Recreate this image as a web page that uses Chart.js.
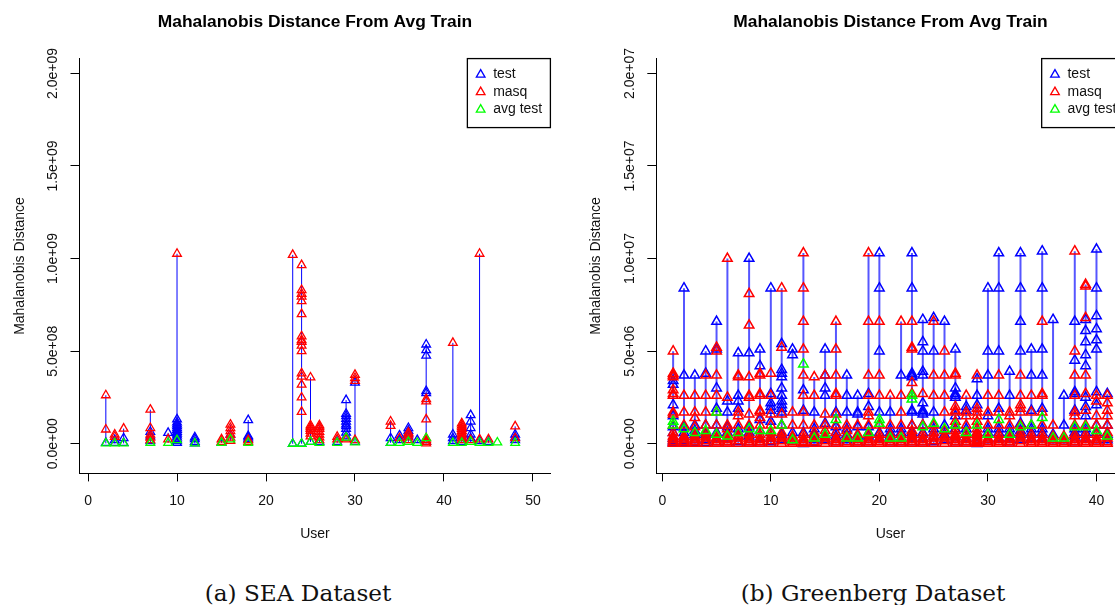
<!DOCTYPE html>
<html><head><meta charset="utf-8">
<script src="https://cdn.jsdelivr.net/npm/chart.js@4.4.0/dist/chart.umd.min.js"></script>
<style>
html,body{margin:0;padding:0;background:#fff;overflow:hidden;width:1115px;height:605px;}
#wrap{position:relative;width:1115px;height:605px;overflow:hidden;background:#fff;}
canvas{position:absolute;top:0;}
.cap{position:absolute;font-family:"DejaVu Serif",serif;font-size:23.2px;line-height:24px;color:#111;white-space:nowrap;transform:translateX(-50%);top:581px;}
</style></head><body>
<div id="wrap">
<canvas id="c1" width="575" height="560" style="left:0px"></canvas>
<canvas id="c2" width="575" height="560" style="left:576px"></canvas>
<div class="cap" style="left:298px">(a) SEA Dataset</div>
<div class="cap" style="left:873px">(b) Greenberg Dataset</div>
</div>
<script>
// ---------------- DATA ----------------
// SEA dataset, values in units of 1e8
const seaUnit = 1e8;
const seaUsers = [2,3,4,7,9,10,12,15,16,18,23,24,25,26,28,29,30,34,35,36,37,38,41,42,43,44,45,46,48];
const seaTest = [
  [0.05],[0.2,0.05],[0.3,0.05],[0.65,0.4,0.15],[0.59],
  [1.32,1.15,1.05,0.95,0.85,0.75,0.65,0.55,0.45,0.35,0.25,0.15,0.05],
  [0.35,0.25,0.1,0.02],[0.05],[0.5],[1.28,0.42,0.35,0.25],
  [0.0],[0.0],[0.1],[0.1],[0.1],
  [2.36,1.62,1.5,1.35,1.2,1.05,0.95,0.8,0.6,0.4],
  [3.3,0.1],[0.3,0.05],[0.45,0.2],[0.85,0.7,0.55,0.4],[0.2],
  [5.36,5.06,4.76,2.85,2.73,0.1],
  [0.5,0.3,0.15],[0.1],[1.55,1.2,0.85,0.5,0.3],[0.15],[0.1],[],[0.5,0.35,0.2]
];
const seaMasq = [
  [2.62,0.77],[0.5,0.38],[0.82],[1.84,0.85,0.5,0.33,0.2],[0.24],
  [10.26],
  [],[0.24,0.1],[1.03,0.85,0.68,0.5,0.33,0.16],[0.2,0.1],
  [10.2],
  [9.65,8.3,8.1,7.95,7.7,7.0,5.8,5.6,5.5,5.3,5.0,3.8,3.63,3.19,2.5,1.72],
  [3.58,1.0,0.9,0.8,0.7,0.55,0.4],[1.0,0.9,0.8,0.65,0.5,0.35,0.2],[0.38,0.24],
  [0.3,0.24],
  [3.72,3.55,3.4,0.2],[1.2,0.97],[0.3],[0.6,0.5,0.35,0.2],[],
  [2.41,2.29,1.32,0.3,0.2,0.1,0.02],
  [5.45],[1.1,1.0,0.9,0.8,0.7,0.6,0.5,0.4,0.3,0.2],[0.2],[10.26,0.24],[0.24],[],[0.94,0.3]
];
const seaAvg = [
  [0.02],[0.02],[0.02],[0.05],[0.05],[0.2],[0.02],[0.05],[0.24],[0.05],
  [0.0],[0.0],[0.1],[0.05],[0.05],[0.33],[0.07],[0.05],[0.05],[0.1],[0.05],
  [0.3],[0.05],[0.05],[0.1],[0.05],[0.05],[0.07],[0.05]
];

// Greenberg dataset, values in units of 1e6
const grUnit = 1e6;
const grUsers = [1,2,3,4,5,6,7,8,9,10,11,12,13,14,15,16,17,18,19,20,21,22,23,24,25,26,27,28,29,30,31,32,33,34,35,36,37,38,39,40,41];
const grTest = [
  [3.4,3.2,2.1,1.5,0.9,0.6,0.3,0.15,0.05],
  [8.4,3.7,0.9,0.6,0.4,0.15,0.05],
  [3.7,1.0,0.7,0.5,0.2,0.05],
  [5.0,3.8,1.0,0.6,0.5,0.2,0.05],
  [6.6,5.1,3.0,1.9,1.0,0.6,0.3,0.1],
  [2.3,1.7,0.9,0.6,0.3,0.1],
  [4.9,2.6,2.3,1.9,0.8,0.6,0.4,0.1],
  [10.0,4.9,0.9,0.6,0.4,0.1],
  [5.1,4.2,1.3,0.7,0.3,0.1],
  [8.4,2.7,2.2,2.0,1.8,1.2,0.6,0.3,0.1],
  [5.4,4.0,3.8,3.6,3.0,2.6,2.3,2.1,1.9,1.7,1.0,0.5,0.2],
  [5.1,4.8,0.6,0.2],
  [2.9,1.8,0.6,0.0],
  [1.7,0.8,0.5,0.2,0.05],
  [5.1,3.7,3.0,2.6,1.1,0.5,0.2],
  [1.7,0.9,0.6,0.4,0.1],
  [3.7,2.6,1.7,0.8,0.5,0.2],
  [2.6,1.7,1.6,0.9,0.4,0.1],
  [2.7,2.0,0.9,0.6,0.4,0.1],
  [10.3,8.4,5.0,1.7,0.6,0.3],
  [1.7,0.8,0.6,0.4,0.1],
  [3.7,0.8,0.6,0.3,0.1],
  [10.3,8.4,3.8,3.7,3.6,1.8,1.7,1.0,0.6,0.3,0.1],
  [6.7,5.5,5.0,3.9,3.7,2.2,1.8,1.7,1.6,1.0,0.6,0.3,0.1],
  [6.8,5.0,1.7,0.8,0.6,0.4,0.1],
  [6.6,1.0,0.7,0.5,0.2],
  [5.1,3.0,2.7,2.6,2.5,1.5,0.8,0.4,0.1],
  [2.0,1.8,0.8,0.6,0.3,0.1],
  [3.5,2.6,2.1,0.6,0.0],
  [8.4,5.0,3.7,1.5,0.8,0.6,0.2],
  [10.3,8.4,5.0,1.9,0.8,0.6,0.3],
  [3.9,2.6,0.8,0.6,0.3,0.1],
  [10.3,8.4,6.6,5.0,1.1,0.7,0.5,0.2],
  [5.1,3.7,1.8,0.8,0.6,0.3],
  [10.4,8.4,5.1,3.7,1.9,0.8,0.6,0.3],
  [6.7,0.5,0.2],
  [2.6,1.0,0.2],
  [6.6,4.5,2.8,2.7,1.8,0.8,0.6,0.4,0.1],
  [6.7,6.1,5.5,4.8,4.2,2.5,2.0,1.5,0.8,0.6,0.3],
  [10.5,8.4,6.9,6.2,5.6,5.1,2.8,2.1,1.0,0.6,0.2],
  [2.7,1.0,0.5,0.2]
];
const grMasq = [
  [5.0,3.8,3.7,3.6,2.9,2.7,2.6,1.7,1.6,1.0,0.6,0.4,0.3,0.2,0.1,0.02],
  [2.6,1.7,1.0,0.4,0.3,0.2,0.1,0.02],
  [2.6,1.7,1.4,0.9,0.4,0.3,0.2,0.1,0.02],
  [3.7,2.6,1.7,1.0,0.6,0.4,0.3,0.15,0.02],
  [5.2,5.0,3.7,2.6,1.7,1.0,0.5,0.3,0.2,0.1,0.02],
  [10.0,2.5,1.0,0.8,0.5,0.3,0.2,0.1,0.02],
  [3.7,3.6,1.7,1.5,1.0,0.6,0.4,0.3,0.15,0.02],
  [8.1,6.4,3.6,2.6,2.5,1.6,1.0,0.5,0.3,0.2,0.1,0.02],
  [3.8,3.7,2.7,2.6,1.8,1.7,1.4,1.0,0.5,0.3,0.2,0.1,0.02],
  [3.8,2.6,1.6,1.0,0.6,0.4,0.3,0.15,0.02],
  [8.4,5.2,1.6,1.0,0.6,0.4,0.3,0.15,0.02],
  [1.7,1.0,0.4,0.3,0.2,0.1,0.02],
  [10.3,8.4,6.6,5.1,3.7,2.6,1.7,1.0,0.5,0.3,0.2,0.1,0.05,0.02],
  [3.6,2.6,1.0,0.6,0.4,0.3,0.1,0.02],
  [3.7,1.6,1.0,0.7,0.4,0.3,0.15,0.02],
  [6.6,5.1,3.7,2.7,2.6,1.6,1.0,0.6,0.3,0.2,0.1,0.02],
  [1.0,0.7,0.4,0.3,0.1,0.02],
  [1.0,0.5,0.3,0.2,0.1,0.02],
  [10.3,6.6,3.7,2.6,1.7,1.5,1.0,0.5,0.3,0.2,0.1,0.02],
  [6.6,3.7,2.6,1.0,0.5,0.3,0.2,0.1,0.02],
  [2.6,1.0,0.5,0.3,0.2,0.1,0.02],
  [6.6,2.6,1.7,1.0,0.5,0.3,0.2,0.1,0.02],
  [6.6,5.2,5.1,3.3,2.7,1.0,0.7,0.5,0.4,0.3,0.2,0.1,0.02],
  [2.7,1.0,0.5,0.3,0.2,0.1,0.02],
  [6.6,3.7,2.6,1.0,0.6,0.4,0.3,0.15,0.02],
  [5.0,3.7,2.6,1.7,0.7,0.4,0.3,0.15,0.02],
  [3.8,3.7,2.0,1.8,1.7,1.2,1.0,0.7,0.5,0.4,0.3,0.2,0.1,0.02],
  [2.6,1.7,1.5,1.0,0.5,0.3,0.2,0.1,0.02],
  [3.7,1.9,1.7,1.5,1.2,0.8,0.6,0.5,0.4,0.3,0.2,0.15,0.1,0.05,0.02],
  [2.6,1.7,1.0,0.5,0.3,0.2,0.1,0.02],
  [3.7,2.6,1.7,1.0,0.5,0.3,0.2,0.1,0.02],
  [1.7,1.5,1.0,0.5,0.3,0.2,0.1,0.02],
  [3.7,2.6,2.1,1.9,1.7,1.0,0.6,0.4,0.3,0.15,0.02],
  [2.6,1.7,1.0,0.5,0.3,0.2,0.1,0.02],
  [6.6,2.7,2.6,1.7,1.0,0.5,0.3,0.2,0.1,0.02],
  [1.0,0.4,0.2,0.1,0.02],
  [0.4,0.2,0.1,0.02],
  [10.4,5.0,3.7,2.6,1.7,1.5,1.0,0.5,0.3,0.2,0.1,0.02],
  [8.6,8.5,6.8,3.7,2.7,1.8,1.0,0.5,0.3,0.2,0.1,0.02],
  [2.6,2.3,1.5,1.0,0.5,0.3,0.2,0.1,0.02],
  [2.6,2.2,1.8,1.5,1.0,0.6,0.4,0.3,0.1,0.02]
];
const grAvg = [
  [1.2,1.0],[0.8],[0.6],[0.7],[1.7,0.5],[0.4],[0.6],[0.8],[0.7],[0.7],
  [1.0],[0.2],[4.3],[0.3],[0.5],[1.3],[0.3],[0.3],[0.6],[1.3,1.1],
  [0.3],[0.3],[2.6,2.4],[0.9],[1.1],[0.8],[1.0],[0.6],[1.0],[0.5],
  [1.3],[0.5],[0.9],[1.0],[1.4],[0.3],[0.3],[0.9],[0.9],[0.7],[0.4]
];

const seaXTicks = [0,10,20,30,40,50];
const grXTicks = [0,10,20,30,40];
const seaYTicks = [0,5e8,1e9,1.5e9,2e9];
const grYTicks = [0,5e6,1e7,1.5e7,2e7];
const legendLabels = ['test','masq','avg test'];

// ---------------- HELPERS ----------------
const FONT = '"Liberation Sans", Arial, Helvetica, sans-serif';
const TXT = '#111';
Chart.defaults.font.family = FONT;
Chart.defaults.color = TXT;

function rExp(v) {
  if (v === 0) return '0.0e+00';
  const e = Math.floor(Math.log10(Math.abs(v)) + 1e-9);
  const m = v / Math.pow(10, e);
  return m.toFixed(1) + 'e' + (e < 0 ? '-' : '+') + String(Math.abs(e)).padStart(2, '0');
}
function toPoints(users, lists, unit) {
  const pts = [];
  users.forEach((u, i) => lists[i].forEach(v => pts.push({x: u, y: v * unit})));
  return pts;
}
function toStems(users, groups, unit) {
  const pts = [];
  users.forEach((u, i) => {
    const all = [].concat(...groups.map(g => g[i]));
    if (!all.length) return;
    pts.push({x: u, y: Math.min(...all) * unit}, {x: u, y: Math.max(...all) * unit}, {x: u, y: null});
  });
  return pts;
}

const rLegend = {
  id: 'rLegend',
  afterDatasetsDraw(chart) {
    const {ctx, chartArea} = chart;
    const items = legendLabels.map(l => {
      const ds = chart.data.datasets.find(d => d.label === l);
      return {label: l, color: ds.borderColor};
    });
    ctx.save();
    ctx.font = '14px ' + FONT;
    const tw = Math.max(...items.map(i => ctx.measureText(i.label).width));
    const w = tw + 34, h = 69;
    const x0 = chartArea.right - w, y0 = chartArea.top;
    ctx.fillStyle = '#fff';
    ctx.fillRect(x0, y0, w, h);
    ctx.strokeStyle = '#000';
    ctx.lineWidth = 1.3;
    ctx.strokeRect(x0, y0, w, h);
    items.forEach((it, k) => {
      const cy = y0 + 16 + k * 17.5;
      const cx = x0 + 13.3, r = 5;
      ctx.beginPath();
      ctx.moveTo(cx, cy - r);
      ctx.lineTo(cx + 0.866 * r, cy + r / 2);
      ctx.lineTo(cx - 0.866 * r, cy + r / 2);
      ctx.closePath();
      ctx.strokeStyle = it.color;
      ctx.lineWidth = 1.3;
      ctx.stroke();
      ctx.fillStyle = TXT;
      ctx.textAlign = 'left';
      ctx.textBaseline = 'middle';
      ctx.fillText(it.label, x0 + 25.8, cy);
    });
    ctx.restore();
  }
};

function makeChart(id, c) {
  const mk = (label, color, data, order) => ({
    label, data, order, showLine: false,
    pointStyle: 'triangle', pointRadius: c.ptRadius, pointHoverRadius: c.ptRadius,
    pointBorderWidth: c.ptWidth, borderColor: color, pointBorderColor: color,
    backgroundColor: 'rgba(0,0,0,0)', pointBackgroundColor: 'rgba(0,0,0,0)'
  });
  return new Chart(document.getElementById(id), {
    type: 'scatter',
    data: {
      datasets: [
        {label: 'stem', data: toStems(c.users, [c.test, c.masq, c.avg], c.unit), showLine: true,
         spanGaps: false, pointRadius: 0, pointHoverRadius: 0, borderColor: c.stemColor,
         borderWidth: c.stemWidth, order: 4},
        mk('test', '#0000ff', toPoints(c.users, c.test, c.unit), 3),
        mk('masq', '#ff0000', toPoints(c.users, c.masq, c.unit), 2),
        mk('avg test', '#00ff00', toPoints(c.users, c.avg, c.unit), 1)
      ]
    },
    options: {
      responsive: false, animation: false, events: [],
      layout: {padding: {left: 0, right: c.padRight, top: 0, bottom: 0}},
      plugins: {
        legend: {display: false}, tooltip: {enabled: false},
        title: {display: true, text: 'Mahalanobis Distance From Avg Train', fullSize: false,
          color: '#000', font: {family: FONT, size: 17.4, weight: 'bold'},
          padding: {top: 11.4, bottom: 26.3}}
      },
      scales: {
        x: {
          type: 'linear', min: c.xmin, max: c.xmax,
          afterBuildTicks: s => { s.ticks = c.xticks.map(v => ({value: v})); },
          afterFit: s => { s.height = 86.6; },
          grid: {display: true, drawOnChartArea: false, drawTicks: true, tickLength: 8, color: '#000', tickColor: '#000'},
          border: {display: true, color: '#000', width: 1},
          ticks: {color: TXT, font: {family: FONT, size: 14}, padding: 11, maxRotation: 0, autoSkip: false,
                  callback: v => String(v)},
          title: {display: true, text: 'User', color: TXT, font: {family: FONT, size: 14},
                  padding: {top: 0, bottom: 17.6}}
        },
        y: {
          type: 'linear', min: -0.08 * c.ytop, max: 1.04 * c.ytop,
          afterBuildTicks: s => { s.ticks = c.yticks.map(v => ({value: v})); },
          afterFit: s => { s.width = c.yWidth; },
          grid: {display: true, drawOnChartArea: false, drawTicks: true, tickLength: 9, color: '#000', tickColor: '#000'},
          border: {display: true, color: '#000', width: 1},
          ticks: {color: TXT, font: {family: FONT, size: 14}, padding: -8, minRotation: 90, maxRotation: 90,
                  crossAlign: 'center', autoSkip: false, callback: v => rExp(v)},
          title: {display: true, text: 'Mahalanobis Distance', color: TXT, font: {family: FONT, size: 14},
                  padding: {top: 11.5, bottom: 0}}
        }
      }
    },
    plugins: [rLegend]
  });
}

makeChart('c1', {
  users: seaUsers, test: seaTest, masq: seaMasq, avg: seaAvg, unit: seaUnit,
  xmin: -0.96, xmax: 51.96, xticks: seaXTicks, yticks: seaYTicks, ytop: 2e9,
  yWidth: 79.5, padRight: 24.6, stemColor: '#0000ff', stemWidth: 1, ptRadius: 5, ptWidth: 1.3
});
makeChart('c2', {
  users: grUsers, test: grTest, masq: grMasq, avg: grAvg, unit: grUnit,
  xmin: -0.55, xmax: 42.6, xticks: grXTicks, yticks: grYTicks, ytop: 2e7,
  yWidth: 80.3, padRight: 26.3, stemColor: 'rgba(30,30,255,0.75)', stemWidth: 2, ptRadius: 5.5, ptWidth: 1.5
});
</script>
</body></html>
